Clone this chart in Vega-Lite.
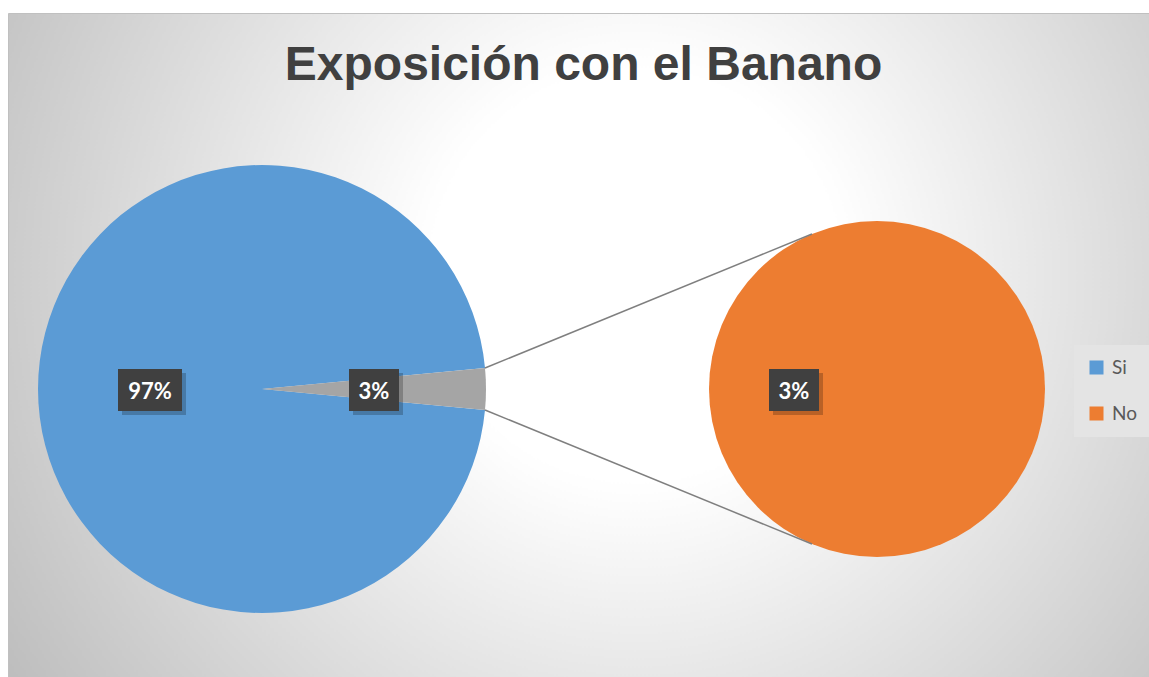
{
  "$schema": "https://vega.github.io/schema/vega-lite/v6.json",
  "width": 1141,
  "height": 752,
  "autosize": {"type": "none"},
  "padding": {"left": 8, "top": 13, "right": 0, "bottom": 0},
  "background": "#ffffff",
  "title": {
    "text": "Exposición con el Banano",
    "font": "Liberation Sans",
    "fontSize": 48,
    "fontWeight": "bold",
    "color": "#404040",
    "anchor": "middle",
    "frame": "group",
    "offset": -49,
    "baseline": "alphabetic",
    "dy": 66,
    "dx": 5
  },
  "config": {
    "view": {
      "stroke": "#c0c0c0",
      "strokeWidth": 1,
      "fill": {
        "gradient": "radial",
        "x1": 0.55, "y1": 0.4, "r1": 0,
        "x2": 0.55, "y2": 0.4, "r2": 0.72,
        "stops": [
          {"offset": 0, "color": "#ffffff"},
          {"offset": 0.25, "color": "#ffffff"},
          {"offset": 1, "color": "#b4b4b4"}
        ]
      }
    }
  },
  "datasets": {
    "sectores": [
      {"pie": "Principal", "categoria": "Si", "valor": 0.97},
      {"pie": "Principal", "categoria": "Otro", "valor": 0.03},
      {"pie": "Secundario", "categoria": "No", "valor": 0.03}
    ],
    "conectores": [
      {"desde": "Principal", "hasta": "Secundario", "borde": "superior"},
      {"desde": "Principal", "hasta": "Secundario", "borde": "inferior"}
    ]
  },
  "data": {"name": "sectores"},
  "resolve": {"scale": {"theta": "independent"}},
  "layer": [
    {
      "transform": [{"filter": "datum.pie == 'Principal'"}],
      "layer": [
        {
          "mark": {"type": "arc", "outerRadius": 224},
          "encoding": {
            "x": {"field": "pie", "type": "nominal", "axis": null,
              "scale": {"type": "point", "domain": ["Principal", "Secundario"], "range": [254, 869], "padding": 0}},
            "theta": {"field": "valor", "type": "quantitative", "stack": true,
              "scale": {"range": [1.4765, 7.7597]}},
            "order": {"field": "categoria", "sort": "ascending"},
            "color": {"field": "categoria", "type": "nominal",
              "scale": {"domain": ["Si", "No", "Otro"], "range": ["#5b9bd5", "#ed7d31", "#a5a5a5"]},
              "legend": {
                "values": ["Si", "No"],
                "title": null,
                "orient": "none",
                "legendX": 1066,
                "legendY": 332,
                "fillColor": "#e4e4e4",
                "padding": 13,
                "symbolType": "square",
                "symbolSize": 196,
                "symbolStrokeWidth": 0,
                "labelFont": "Lato",
                "labelFontSize": 19,
                "labelColor": "#595959",
                "labelOffset": 6,
                "rowPadding": 26
              }
            }
          }
        }
      ]
    },
    {
      "transform": [{"filter": "datum.pie == 'Secundario'"}],
      "mark": {"type": "arc", "outerRadius": 168},
      "encoding": {
        "x": {"field": "pie", "type": "nominal", "axis": null},
        "theta": {"field": "valor", "type": "quantitative", "stack": true},
        "color": {"field": "categoria", "type": "nominal"}
      }
    },
    {
      "data": {"name": "conectores"},
      "transform": [{"filter": "datum.borde == 'superior'"}],
      "mark": {"type": "rule", "color": "#7f7f7f", "strokeWidth": 1.5, "xOffset": 223, "x2Offset": -65},
      "encoding": {
        "x": {"field": "desde", "type": "nominal", "axis": null},
        "x2": {"field": "hasta"},
        "y": {"value": 355},
        "y2": {"value": 221}
      }
    },
    {
      "data": {"name": "conectores"},
      "transform": [{"filter": "datum.borde == 'inferior'"}],
      "mark": {"type": "rule", "color": "#7f7f7f", "strokeWidth": 1.5, "xOffset": 223, "x2Offset": -65},
      "encoding": {
        "x": {"field": "desde", "type": "nominal", "axis": null},
        "x2": {"field": "hasta"},
        "y": {"value": 397},
        "y2": {"value": 531}
      }
    },
    {
      "transform": [{"filter": "datum.categoria == 'Si'"}],
      "layer": [
        {"mark": {"type": "point", "shape": "M-1,-0.65625H1V0.65625H-1Z", "size": 4096, "filled": true, "fill": "#000000", "opacity": 0.22, "xOffset": -108, "yOffset": 5}},
        {"mark": {"type": "point", "shape": "M-1,-0.65625H1V0.65625H-1Z", "size": 4096, "filled": true, "fill": "#404040", "opacity": 1, "xOffset": -112, "yOffset": 1}},
        {"mark": {"type": "text", "font": "Lato", "fontSize": 22, "fontWeight": "bold", "color": "#ffffff", "baseline": "alphabetic", "align": "center", "xOffset": -112, "dy": 10},
         "encoding": {"text": {"field": "valor", "type": "quantitative", "format": ".0%"}}}
      ],
      "encoding": {"x": {"field": "pie", "type": "nominal", "axis": null}}
    },
    {
      "transform": [{"filter": "datum.categoria == 'Otro'"}],
      "layer": [
        {"mark": {"type": "point", "shape": "M-1,-0.84H1V0.84H-1Z", "size": 2500, "filled": true, "fill": "#000000", "opacity": 0.22, "xOffset": 116, "yOffset": 5}},
        {"mark": {"type": "point", "shape": "M-1,-0.84H1V0.84H-1Z", "size": 2500, "filled": true, "fill": "#404040", "opacity": 1, "xOffset": 112, "yOffset": 1}},
        {"mark": {"type": "text", "font": "Lato", "fontSize": 22, "fontWeight": "bold", "color": "#ffffff", "baseline": "alphabetic", "align": "center", "xOffset": 112, "dy": 10},
         "encoding": {"text": {"field": "valor", "type": "quantitative", "format": ".0%"}}}
      ],
      "encoding": {"x": {"field": "pie", "type": "nominal", "axis": null}}
    },
    {
      "transform": [{"filter": "datum.categoria == 'No'"}],
      "layer": [
        {"mark": {"type": "point", "shape": "M-1,-0.84H1V0.84H-1Z", "size": 2500, "filled": true, "fill": "#000000", "opacity": 0.22, "xOffset": -79, "yOffset": 5}},
        {"mark": {"type": "point", "shape": "M-1,-0.84H1V0.84H-1Z", "size": 2500, "filled": true, "fill": "#404040", "opacity": 1, "xOffset": -83, "yOffset": 1}},
        {"mark": {"type": "text", "font": "Lato", "fontSize": 22, "fontWeight": "bold", "color": "#ffffff", "baseline": "alphabetic", "align": "center", "xOffset": -83, "dy": 10},
         "encoding": {"text": {"field": "valor", "type": "quantitative", "format": ".0%"}}}
      ],
      "encoding": {"x": {"field": "pie", "type": "nominal", "axis": null}}
    }
  ]
}
